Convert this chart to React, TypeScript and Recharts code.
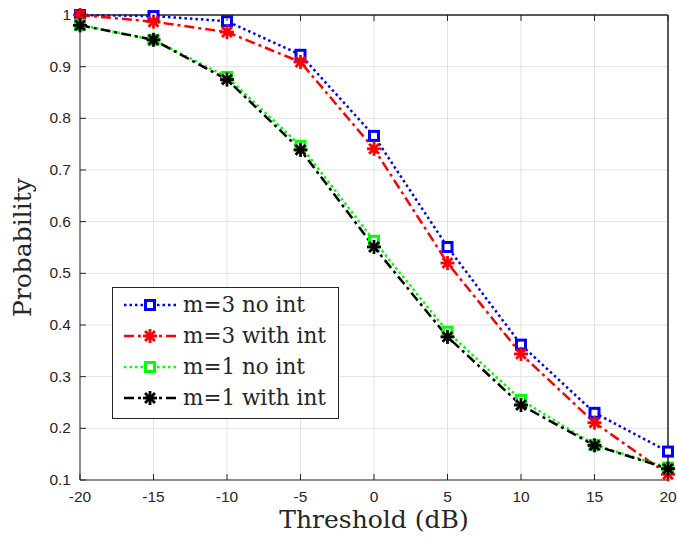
import { LineChart, Line, XAxis, YAxis, CartesianGrid, Label, ReferenceLine } from 'recharts'

const thresholds = [-20, -15, -10, -5, 0, 5, 10, 15, 20]
const m3NoInt = [1.0, 0.998, 0.988, 0.923, 0.766, 0.551, 0.362, 0.23, 0.155]
const m3WithInt = [1.0, 0.987, 0.967, 0.909, 0.741, 0.52, 0.344, 0.211, 0.111]
const m1NoInt = [0.981, 0.952, 0.88, 0.747, 0.563, 0.387, 0.255, 0.168, 0.124]
const m1WithInt = [0.98, 0.952, 0.875, 0.739, 0.551, 0.377, 0.245, 0.167, 0.122]

const xTicks = [-20, -15, -10, -5, 0, 5, 10, 15, 20]
const yTicks = [0.1, 0.2, 0.3, 0.4, 0.5, 0.6, 0.7, 0.8, 0.9, 1]

const data = thresholds.map((t, i) => ({
  t,
  m3n: m3NoInt[i],
  m3w: m3WithInt[i],
  m1n: m1NoInt[i],
  m1w: m1WithInt[i],
}))

const SERIES = [
  { key: 'm3n', name: 'm=3 no int', color: '#0000ff', dash: '2.5 3', marker: 'square' },
  { key: 'm3w', name: 'm=3 with int', color: '#ff0000', dash: '10 4 3 4', marker: 'star' },
  { key: 'm1n', name: 'm=1 no int', color: '#00ff00', dash: '2.5 3', marker: 'square' },
  { key: 'm1w', name: 'm=1 with int', color: '#000000', dash: '10 4 3 4', marker: 'star' },
]

const TICK_FONT = '"Liberation Sans", Arial, sans-serif'
const SERIF = '"DejaVu Serif", serif'
const AXIS = '#262626'

function Marker({ x, y, kind, color }: { x: number; y: number; kind: string; color: string }) {
  if (kind === 'square') {
    return <rect x={x - 4.5} y={y - 4.5} width={9} height={9} fill="#fff" stroke={color} strokeWidth={3} />
  }
  const r = 7
  const arms = [0, 45, 90, 135].map((a) => {
    const rad = (a * Math.PI) / 180
    const dx = Math.cos(rad) * r
    const dy = Math.sin(rad) * r
    return <line key={a} x1={x - dx} y1={y - dy} x2={x + dx} y2={y + dy} stroke={color} strokeWidth={2.8} />
  })
  return <g>{arms}</g>
}

const BottomTick = (props: any) => {
  const { x, y, payload } = props
  return (
    <g>
      <line x1={x} y1={y} x2={x} y2={y - 6} stroke={AXIS} />
      <text x={x} y={y + 22} textAnchor="middle" fontSize={15.5} fontFamily={TICK_FONT} fill="#262626">
        {payload.value}
      </text>
    </g>
  )
}

const LeftTick = (props: any) => {
  const { x, y, payload } = props
  return (
    <g>
      <line x1={x} y1={y} x2={x + 6} y2={y} stroke={AXIS} />
      <text x={x - 9} y={y + 5} textAnchor="end" fontSize={15.5} fontFamily={TICK_FONT} fill="#262626">
        {Number(payload.value.toFixed(1)).toString()}
      </text>
    </g>
  )
}

const TopTick = (props: any) => {
  const { x, y } = props
  return <line x1={x} y1={y} x2={x} y2={y + 6} stroke={AXIS} />
}

const RightTick = (props: any) => {
  const { x, y } = props
  return <line x1={x} y1={y} x2={x - 6} y2={y} stroke={AXIS} />
}

function LegendBox() {
  const rows = [305, 336, 367, 398]
  return (
    <svg width={677} height={537} style={{ position: 'absolute', left: 0, top: 0, pointerEvents: 'none' }}>
      <rect x={112.5} y={287.5} width={226} height={131} fill="#fff" stroke="#262626" strokeWidth={1} />
      {SERIES.map((s, i) => (
        <g key={s.key}>
          <line x1={124} y1={rows[i]} x2={177} y2={rows[i]} stroke={s.color} strokeWidth={2.5} strokeDasharray={s.dash} />
          <Marker x={150} y={rows[i]} kind={s.marker} color={s.color} />
          <text x={183} y={rows[i] + 7} fontSize={21.5} fontFamily={SERIF} fill="#262626">
            {s.name}
          </text>
        </g>
      ))}
    </svg>
  )
}

export default function App() {
  return (
    <div style={{ position: 'absolute', left: 0, top: 0, width: 677, height: 537, background: '#fff' }}>
      <LineChart width={677} height={537} data={data} margin={{ top: 14, right: 8, left: 0, bottom: 0 }}>
        <CartesianGrid stroke="#e3e3e3" strokeWidth={1} />
        <XAxis
          dataKey="t"
          type="number"
          domain={[-20, 20]}
          ticks={xTicks}
          height={57}
          stroke={AXIS}
          tickLine={false}
          tickSize={0}
          tickMargin={0}
          tick={BottomTick}
          interval={0}
        >
          <Label value="Threshold (dB)" position="insideBottom" offset={9} fontSize={25} fontFamily={SERIF} fill="#262626" />
        </XAxis>
        <XAxis
          xAxisId="top"
          orientation="top"
          dataKey="t"
          type="number"
          domain={[-20, 20]}
          ticks={xTicks}
          height={1}
          stroke={AXIS}
          tickLine={false}
          tickSize={0}
          tickMargin={0}
          tick={TopTick}
          interval={0}
        />
        <YAxis
          type="number"
          domain={[0.1, 1]}
          ticks={yTicks}
          width={80}
          stroke={AXIS}
          tickLine={false}
          tickSize={0}
          tickMargin={0}
          tick={LeftTick}
          interval={0}
        >
          <Label value="Probability" angle={-90} position="insideLeft" offset={22} fontSize={25} fontFamily={SERIF} fill="#262626" style={{ textAnchor: 'middle' }} />
        </YAxis>
        <YAxis
          yAxisId="right"
          orientation="right"
          type="number"
          domain={[0.1, 1]}
          ticks={yTicks}
          width={1}
          stroke={AXIS}
          tickLine={false}
          tickSize={0}
          tickMargin={0}
          tick={RightTick}
          interval={0}
        />
        <ReferenceLine y={1} stroke={AXIS} />
        <ReferenceLine x={20} stroke={AXIS} />
        {SERIES.map((s) => (
          <Line
            key={s.key}
            dataKey={s.key}
            stroke={s.color}
            strokeWidth={2.5}
            strokeDasharray={s.dash}
            isAnimationActive={false}
            dot={(p: any) => (
              <g key={`${s.key}-${p.index}`}>
                <Marker x={p.cx} y={p.cy} kind={s.marker} color={s.color} />
              </g>
            )}
          />
        ))}
      </LineChart>
      <LegendBox />
    </div>
  )
}
